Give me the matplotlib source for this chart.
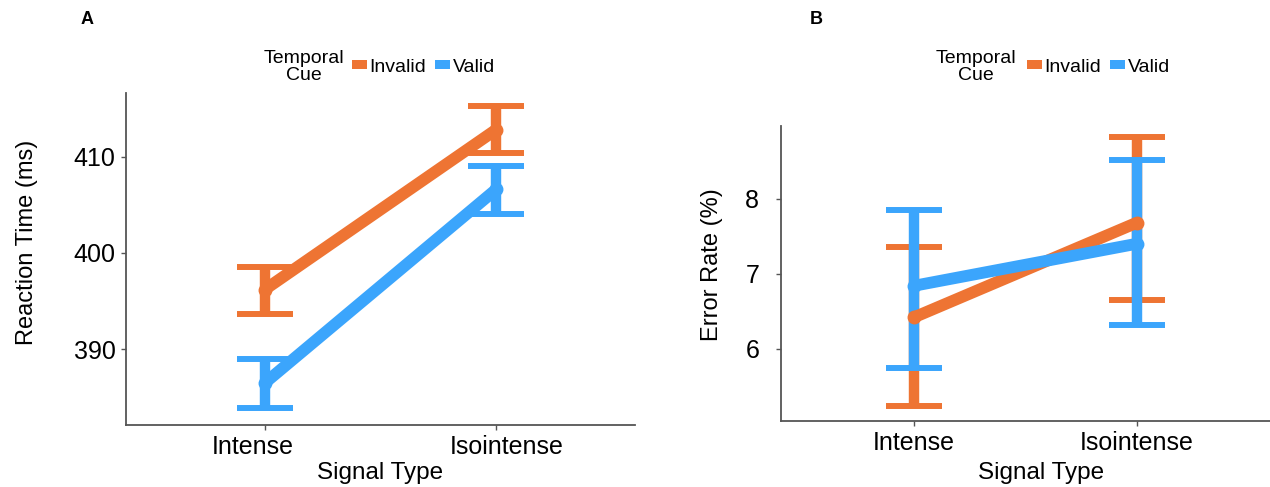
import matplotlib.pyplot as plt
from matplotlib.patches import Patch
from matplotlib.transforms import ScaledTranslation

# ---- data ----
signal_types = ["Intense", "Isointense"]
cue_levels = ["Invalid", "Valid"]

# panel A: reaction time (ms), mean with lower/upper error bar ends
rt_mean = {"Invalid": [396.2, 412.8], "Valid": [386.5, 406.6]}
rt_low = {"Invalid": [393.7, 410.35], "Valid": [383.9, 404.0]}
rt_high = {"Invalid": [398.55, 415.25], "Valid": [389.0, 409.0]}

# panel B: error rate (%)
er_mean = {"Invalid": [6.42, 7.68], "Valid": [6.84, 7.40]}
er_low = {"Invalid": [5.23, 6.65], "Valid": [5.74, 6.32]}
er_high = {"Invalid": [7.36, 8.83], "Valid": [7.85, 8.52]}

COLORS = {"Invalid": "#EE7433", "Valid": "#3BA5FC"}
FONT = ["Liberation Sans", "DejaVu Sans"]

plt.rcParams["font.family"] = FONT

fig = plt.figure(figsize=(12.7, 4.87), dpi=100)
ax_a = fig.add_axes([0.0992, 0.1273, 0.4008, 0.6817])
ax_b = fig.add_axes([0.6147, 0.1361, 0.3853, 0.6050])

xpos = [1, 2]


def draw_panel(ax, mean, low, high):
    for cue in cue_levels:
        m = mean[cue]
        lo = [a - b for a, b in zip(m, low[cue])]
        hi = [b - a for a, b in zip(m, high[cue])]
        ax.errorbar(xpos, m, yerr=[lo, hi], color=COLORS[cue], lw=0,
                    elinewidth=7.5, capsize=20, capthick=4.3, zorder=2)
        ax.plot(xpos, m, color=COLORS[cue], lw=8.5, marker="o", ms=9,
                solid_capstyle="butt", zorder=3)
    ax.set_xlim(0.4, 2.6)
    ax.set_xticks(xpos)
    ax.set_xticklabels(signal_types)
    for side in ["top", "right"]:
        ax.spines[side].set_visible(False)
    for side in ["left", "bottom"]:
        ax.spines[side].set_color("#555555")
        ax.spines[side].set_linewidth(1.3)
    ax.tick_params(axis="both", length=3.5, width=1.0, color="#555555",
                   labelsize=18, labelcolor="black")
    ax.tick_params(axis="y", pad=4)
    ax.tick_params(axis="x", pad=4)


draw_panel(ax_a, rt_mean, rt_low, rt_high)
ax_a.set_ylim(382.14, 416.6)
ax_a.set_yticks([390, 400, 410])
ax_a.set_ylabel("Reaction Time (ms)", fontsize=17, va="center")
ax_a.set_xlabel("Signal Type", fontsize=17.5)
ax_a.yaxis.set_label_coords(-0.195, 0.55)
ax_a.xaxis.set_label_coords(0.5, -0.112)
# category labels in panel A sit slightly away from their ticks
for lab, dx in zip(ax_a.get_xticklabels(), [-12, 11]):
    lab.set_transform(lab.get_transform() + ScaledTranslation(dx / 100, 0, fig.dpi_scale_trans))

draw_panel(ax_b, er_mean, er_low, er_high)
ax_b.set_ylim(5.04, 8.97)
ax_b.set_yticks([6, 7, 8])
ax_b.set_ylabel("Error Rate (%)", fontsize=17, va="center")
ax_b.set_xlabel("Signal Type", fontsize=17.5)
ax_b.yaxis.set_label_coords(-0.14, 0.53)
ax_b.xaxis.set_label_coords(0.532, -0.14)
ax_b.tick_params(axis="y", pad=12)

# panel letters
fig.text(87 / 1270, 1 - 20 / 487, "A", fontsize=13, fontweight="bold",
         ha="center", va="center")
fig.text(816 / 1270, 1 - 20 / 487, "B", fontsize=13, fontweight="bold",
         ha="center", va="center")

# legends
handles = [Patch(facecolor=COLORS[c], edgecolor="none", label=c) for c in cue_levels]
for title_x, leg_x in [(304, 352), (976, 1027)]:
    fig.text(title_x / 1270, 1 - 67 / 487, "Temporal\nCue", ha="center", va="center",
             fontsize=14, linespacing=1.05)
    fig.legend(handles=handles, loc="center left",
               bbox_to_anchor=(leg_x / 1270, 1 - 67 / 487), ncol=2, frameon=False,
               prop={"size": 14}, handlelength=0.75, handleheight=0.4,
               handletextpad=0.15, columnspacing=0.45, borderpad=0, borderaxespad=0)

fig.savefig("out.png", dpi=100)
